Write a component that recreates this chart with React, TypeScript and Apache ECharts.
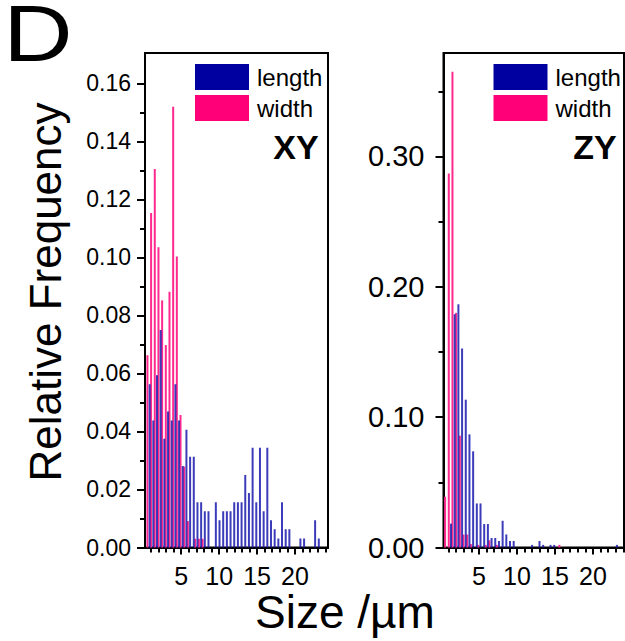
import React, { useEffect, useRef } from "react";
import * as echarts from "echarts";

// Histogram bins (µm): bin k sits at binStart + k * binWidth; width bars sit just right of length bars.
const binStart = 0.35;
const binWidth = 0.485;
const pairOffset = 0.19;

// XY plane – relative frequency per bin
const xyLength = [
  0, 0.0563, 0.0438, 0.0594, 0.075, 0.0375, 0.0469, 0.0438, 0.0563, 0.0438,
  0.0281, 0.0406, 0.0313, 0.0313, 0.0156, 0.0156, 0.0125, 0.0125, 0, 0.0156,
  0.0094, 0.0125, 0.0125, 0.0125, 0.0156, 0.0156, 0.0156, 0.025, 0.0188, 0.0344,
  0.0156, 0.0344, 0.0125, 0.0344, 0.0094, 0.0063, 0.0031, 0.0156, 0.0063, 0.0063,
  0, 0, 0.0031, 0.0031, 0, 0, 0.0094, 0.0031,
];
const xyWidth = [
  0.0663, 0.1153, 0.1305, 0.1035, 0.0852, 0.0698, 0.0882, 0.152, 0.1003, 0.0457,
  0.0279, 0.0091, 0, 0.003, 0.003, 0.003,
];

// ZY plane – relative frequency per bin
const zyLength = [
  0, 0, 0.0183, 0.179, 0.1866, 0.1527, 0.1134, 0.0868, 0.0738, 0.0338,
  0.0338, 0.018, 0.018, 0.0073, 0.0073, 0.005, 0.0205, 0.01, 0.005, 0.005,
  0, 0, 0, 0, 0.002, 0, 0.005, 0.002, 0, 0.002,
  0.002, 0, 0, 0, 0, 0, 0, 0, 0, 0,
  0, 0, 0, 0, 0, 0, 0, 0.002,
];
const zyWidth = [
  0.039, 0.287, 0.365, 0.18, 0.0858, 0.0099, 0.0099, 0.0026, 0, 0.002,
  0, 0.002, 0.0055, 0, 0.002, 0, 0, 0, 0, 0,
  0, 0, 0, 0, 0, 0, 0, 0, 0, 0,
  0, 0.002,
];

// Axis ticks
const xMajor = [5, 10, 15, 20];
const xMinor = [1, 2, 3, 4, 6, 7, 8, 9, 11, 12, 13, 14, 16, 17, 18, 19, 21, 22, 23, 24];
const xyYMajor = [0, 0.02, 0.04, 0.06, 0.08, 0.1, 0.12, 0.14, 0.16];
const xyYMinor = [0.01, 0.03, 0.05, 0.07, 0.09, 0.11, 0.13, 0.15];
const zyYMajor = [0, 0.1, 0.2, 0.3];
const zyYMinor = [0.05, 0.15, 0.25, 0.35];

const FONT = "'Liberation Sans', Arial, Helvetica, sans-serif";
const BLUE = "#0000a0";
const BLUE_BAR = "#1a1aae";
const PINK = "#ff0078";
const PINK_BAR = "#ff2a8e";

const W = 625;
const H = 641;

const toPairs = (vals: number[], shift: number) =>
  vals.map((v, k) => [+(binStart + k * binWidth + shift).toFixed(3), v]);

const panels = [
  { left: 145, right: 328, xMin: 0.22, xMax: 24.36, yMax: 0.1705, yMajor: xyYMajor, yMinor: xyYMinor, yFont: 23, yMargin: 14, length: xyLength, width: xyWidth },
  { left: 443.5, right: 624, xMin: 0.33, xMax: 24.08, yMax: 0.3794, yMajor: zyYMajor, yMinor: zyYMinor, yFont: 29, yMargin: 19, length: zyLength, width: zyWidth },
];
const TOP = 53;
const BOTTOM = 547.5;

export default function App() {
  const ref = useRef<HTMLDivElement>(null);

  useEffect(() => {
    if (!ref.current) return;
    const chart = echarts.init(ref.current, undefined, { renderer: "svg" });

    const grid: any[] = [];
    const xAxis: any[] = [];
    const yAxis: any[] = [];
    const series: any[] = [];
    const legend: any[] = [];

    panels.forEach((p, i) => {
      const g = i * 2;
      const box = { left: p.left, right: W - p.right, top: TOP, bottom: H - BOTTOM };
      // main grid (frame, major ticks, labels, bars) and an aligned one carrying the minor ticks
      grid.push({ ...box, show: true, borderColor: "#000", borderWidth: 2, backgroundColor: "transparent" });
      grid.push({ ...box, show: false });

      xAxis.push({
        type: "value", gridIndex: g, min: p.xMin, max: p.xMax,
        axisLine: { show: true, lineStyle: { color: "#000", width: 2 } },
        axisTick: { show: true, customValues: xMajor, length: 7, lineStyle: { color: "#000", width: 2 } },
        axisLabel: { customValues: xMajor, fontSize: 25, lineHeight: 22, fontFamily: FONT, color: "#000", margin: 17 },
        splitLine: { show: false },
      });
      xAxis.push({
        type: "value", gridIndex: g + 1, min: p.xMin, max: p.xMax,
        axisLine: { show: false },
        axisTick: { show: true, customValues: xMinor, length: 5, lineStyle: { color: "#000", width: 2 } },
        axisLabel: { show: false },
        splitLine: { show: false },
      });
      yAxis.push({
        type: "value", gridIndex: g, min: 0, max: p.yMax,
        axisLine: { show: true, lineStyle: { color: "#000", width: 2 } },
        axisTick: { show: true, customValues: p.yMajor, length: 8, lineStyle: { color: "#000", width: 2 } },
        axisLabel: {
          customValues: p.yMajor, fontSize: p.yFont, fontFamily: FONT, color: "#000", margin: p.yMargin,
          formatter: (v: number) => v.toFixed(2),
        },
        splitLine: { show: false },
      });
      yAxis.push({
        type: "value", gridIndex: g + 1, min: 0, max: p.yMax,
        axisLine: { show: false },
        axisTick: { show: true, customValues: p.yMinor, length: 5, lineStyle: { color: "#000", width: 2 } },
        axisLabel: { show: false },
        splitLine: { show: false },
      });

      series.push({
        name: "width", type: "bar", xAxisIndex: g, yAxisIndex: g,
        data: toPairs(p.width, pairOffset), barWidth: 2, barGap: "-100%",
        itemStyle: { color: PINK_BAR }, z: 2,
      });
      series.push({
        name: "length", type: "bar", xAxisIndex: g, yAxisIndex: g,
        data: toPairs(p.length, 0), barWidth: 2, barGap: "-100%",
        itemStyle: { color: BLUE_BAR, opacity: 0.85 }, z: 3,
      });

      legend.push({
        left: p.left + 50, top: 64, orient: "vertical", padding: 0,
        itemWidth: 54, itemHeight: 26, itemGap: 5, icon: "rect", selectedMode: false,
        textStyle: { fontSize: 24, fontFamily: FONT, color: "#000", padding: [0, 0, 0, 3] },
        data: [
          { name: "length", itemStyle: { color: BLUE, opacity: 1 } },
          { name: "width", itemStyle: { color: PINK, opacity: 1 } },
        ],
      });
    });

    chart.setOption({
      animation: false,
      backgroundColor: "#fff",
      grid, xAxis, yAxis, series, legend,
      graphic: [
        { type: "text", x: 38, y: 33, scaleX: 1.2, style: { text: "D", fontSize: 80, lineHeight: 60, fontFamily: FONT, fill: "#000", align: "center", verticalAlign: "middle" } },
        { type: "text", x: 45, y: 292, rotation: Math.PI / 2, style: { text: "Relative Frequency", fontSize: 44, fontFamily: FONT, fill: "#000", align: "center", verticalAlign: "middle" } },
        { type: "text", x: 345, y: 612, style: { text: "Size /µm", fontSize: 46, lineHeight: 40, fontFamily: FONT, fill: "#000", align: "center", verticalAlign: "middle" } },
        { type: "text", x: 296, y: 147, style: { text: "XY", fontSize: 34, fontWeight: "bold", fontFamily: FONT, fill: "#000", align: "center", verticalAlign: "middle" } },
        { type: "text", x: 595, y: 147, style: { text: "ZY", fontSize: 34, fontWeight: "bold", fontFamily: FONT, fill: "#000", align: "center", verticalAlign: "middle" } },
      ],
    });

    return () => chart.dispose();
  }, []);

  return (
    <div
      ref={ref}
      style={{ position: "fixed", left: 0, top: 0, width: W, height: H, background: "#fff" }}
    />
  );
}
